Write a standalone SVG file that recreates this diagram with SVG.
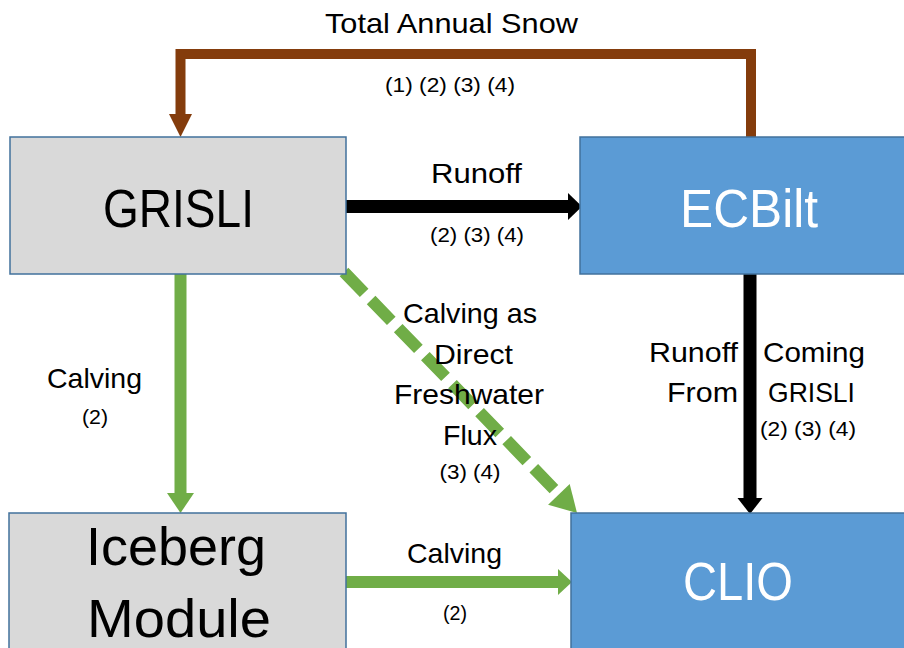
<svg xmlns="http://www.w3.org/2000/svg" width="904" height="648" viewBox="0 0 904 648">
<style>
text{font-family:"Liberation Sans Narrow","Liberation Sans",Arial,sans-serif;fill:#000;}
.big{font-size:54px;text-anchor:middle;}
.mid{font-size:28px;}
.sm{font-size:20px;}
.c{text-anchor:middle;}
.e{text-anchor:end;}
.w{fill:#fff;}
.gray{fill:#D9D9D9;stroke:#41719C;stroke-width:1.5;}
.blue{fill:#5B9BD5;stroke:#41719C;stroke-width:1.5;}
.ln{fill:none;stroke-linejoin:miter;}
.brown{stroke:#843C0C;stroke-width:10;}
.black{stroke:#000;stroke-width:13;}
.green{stroke:#70AD47;stroke-width:12;}
</style>
<rect width="904" height="648" fill="#fff"/>
<g id="connectors">
<path class="ln brown" d="M751 137 V54 H180.5 V116"/>
<polygon fill="#843C0C" points="169,114 192,114 180.5,137"/>
<line class="ln black" x1="346" y1="206.5" x2="569" y2="206.5"/>
<polygon fill="#000" points="568,193 582,206.5 568,220"/>
<line class="ln black" x1="750" y1="274" x2="750" y2="499"/>
<polygon fill="#000" points="737.5,498 762.5,498 750,514"/>
<line class="ln green" x1="180.5" y1="274" x2="180.5" y2="494"/>
<polygon fill="#70AD47" points="167,493 194,493 180.5,513"/>
<line class="ln green" x1="346" y1="582" x2="559" y2="582"/>
<polygon fill="#70AD47" points="558,569 572,582 558,595"/>
<line class="ln green" x1="344" y1="272" x2="559" y2="494.3" stroke-dasharray="29 10"/>
<polygon fill="#70AD47" points="548.1,504.7 569.7,483.9 577,513"/>
</g>
<g id="grisli">
<rect class="gray" x="10" y="137" width="336" height="137"/>
<text class="big" x="178.5" y="227" textLength="151" lengthAdjust="spacingAndGlyphs">GRISLI</text>
</g>
<g id="ecbilt">
<rect class="blue" x="580" y="137" width="330" height="137"/>
<text class="big w" x="749" y="227" textLength="138" lengthAdjust="spacingAndGlyphs">ECBilt</text>
</g>
<g id="iceberg">
<rect class="gray" x="9" y="513" width="337" height="150"/>
<text class="big" x="176" y="565" textLength="180" lengthAdjust="spacingAndGlyphs">Iceberg</text>
<text class="big" x="179" y="637" textLength="184" lengthAdjust="spacingAndGlyphs">Module</text>
</g>
<g id="clio">
<rect class="blue" x="571" y="513" width="340" height="150"/>
<text class="big w" x="738" y="600" textLength="110" lengthAdjust="spacingAndGlyphs">CLIO</text>
</g>
<g id="labels">
<text class="mid c" x="451.5" y="33" textLength="253" lengthAdjust="spacingAndGlyphs">Total Annual Snow</text>
<text class="sm c" x="450" y="92" textLength="130" lengthAdjust="spacingAndGlyphs">(1) (2) (3) (4)</text>
<text class="mid c" x="476.5" y="183" textLength="91" lengthAdjust="spacingAndGlyphs">Runoff</text>
<text class="sm c" x="477" y="242" textLength="94" lengthAdjust="spacingAndGlyphs">(2) (3) (4)</text>
<text class="mid c" x="470" y="323" textLength="134" lengthAdjust="spacingAndGlyphs">Calving as</text>
<text class="mid c" x="473.5" y="364" textLength="79" lengthAdjust="spacingAndGlyphs">Direct</text>
<text class="mid c" x="469" y="404" textLength="150" lengthAdjust="spacingAndGlyphs">Freshwater</text>
<text class="mid c" x="470" y="445" textLength="54" lengthAdjust="spacingAndGlyphs">Flux</text>
<text class="sm c" x="470" y="479" textLength="61" lengthAdjust="spacingAndGlyphs">(3) (4)</text>
<text class="mid" x="649" y="362" textLength="89" lengthAdjust="spacingAndGlyphs">Runoff</text>
<text class="mid" x="763" y="362" textLength="102" lengthAdjust="spacingAndGlyphs">Coming</text>
<text class="mid" x="667" y="402" textLength="71" lengthAdjust="spacingAndGlyphs">From</text>
<text class="mid" x="768" y="402" textLength="87" lengthAdjust="spacingAndGlyphs">GRISLI</text>
<text class="sm c" x="808" y="436" textLength="96" lengthAdjust="spacingAndGlyphs">(2) (3) (4)</text>
<text class="mid c" x="94.5" y="388" textLength="95" lengthAdjust="spacingAndGlyphs">Calving</text>
<text class="sm c" x="95" y="424" textLength="26" lengthAdjust="spacingAndGlyphs">(2)</text>
<text class="mid c" x="454.5" y="563" textLength="95" lengthAdjust="spacingAndGlyphs">Calving</text>
<text class="sm c" x="455" y="620" textLength="24" lengthAdjust="spacingAndGlyphs">(2)</text>
</g>
</svg>
